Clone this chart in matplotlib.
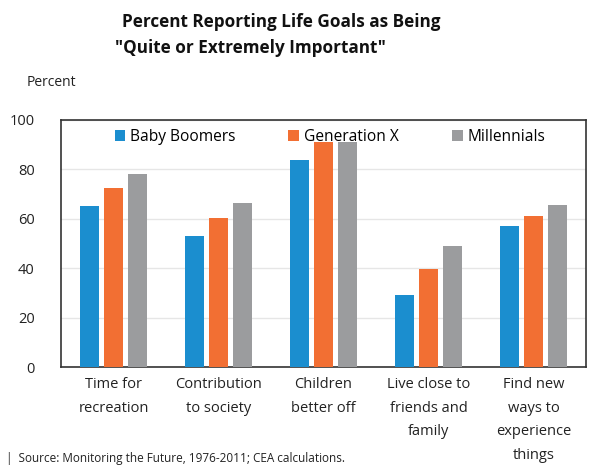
import matplotlib.pyplot as plt
import numpy as np

plt.rcParams['font.family'] = ['Open Sans', 'DejaVu Sans']

categories = ["Time for\nrecreation", "Contribution\nto society", "Children\nbetter off",
              "Live close to\nfriends and\nfamily", "Find new\nways to\nexperience\nthings"]
series_names = ["Baby Boomers", "Generation X", "Millennials"]
baby_boomers = [65, 53, 84, 29, 57]
generation_x = [72.5, 60.5, 91, 39.5, 61]
millennials = [78, 66.5, 91, 49, 65.5]
yticks = [0, 20, 40, 60, 80, 100]

colors = ["#1B8ECF", "#F26F33", "#9B9C9E"]

fig = plt.figure(figsize=(5.94, 4.66), dpi=100)
ax = fig.add_axes([0.1027, 0.2124, 0.884, 0.5301])

x = np.arange(len(categories))
step = 0.23
width = 0.18
for i, (name, vals) in enumerate(zip(series_names, [baby_boomers, generation_x, millennials])):
    ax.bar(x + (i - 1) * step, vals, width, color=colors[i], label=name, zorder=3)

ax.set_xlim(-0.5, len(categories) - 0.5)
ax.set_ylim(0, 100)
ax.set_yticks(yticks)
ax.yaxis.grid(True, color="#E6E6E6", linewidth=1, zorder=0)
ax.set_xticks(x)
ax.set_xticklabels(categories, fontsize=10.5, linespacing=1.8, color="#222222")
ax.tick_params(axis='both', length=0)
ax.tick_params(axis='y', labelsize=10.5, pad=19, labelcolor="#222222")
ax.tick_params(axis='x', pad=7)
for s in ax.spines.values():
    s.set_color("#333333")
    s.set_linewidth(1.2)

ax.legend(loc="upper center", ncol=3, frameon=False, fontsize=11.2,
          bbox_to_anchor=(0.512, 1.02), handlelength=0.7, handleheight=0.7,
          handletextpad=0.3, columnspacing=3.4)

fig.text(0.473, 0.953, "Percent Reporting Life Goals as Being", ha="center", va="center",
         fontsize=12.3, fontweight="bold", color="#111111")
fig.text(0.421, 0.897, "\"Quite or Extremely Important\"", ha="center", va="center",
         fontsize=12.3, fontweight="bold", color="#111111")
fig.text(0.045, 0.823, "Percent", ha="left", va="center", fontsize=10, color="#222222")
fig.text(0.01, 0.017, "|  Source: Monitoring the Future, 1976-2011; CEA calculations.",
         ha="left", va="center", fontsize=8.5, color="#222222")

fig.savefig("out.png", dpi=100)
